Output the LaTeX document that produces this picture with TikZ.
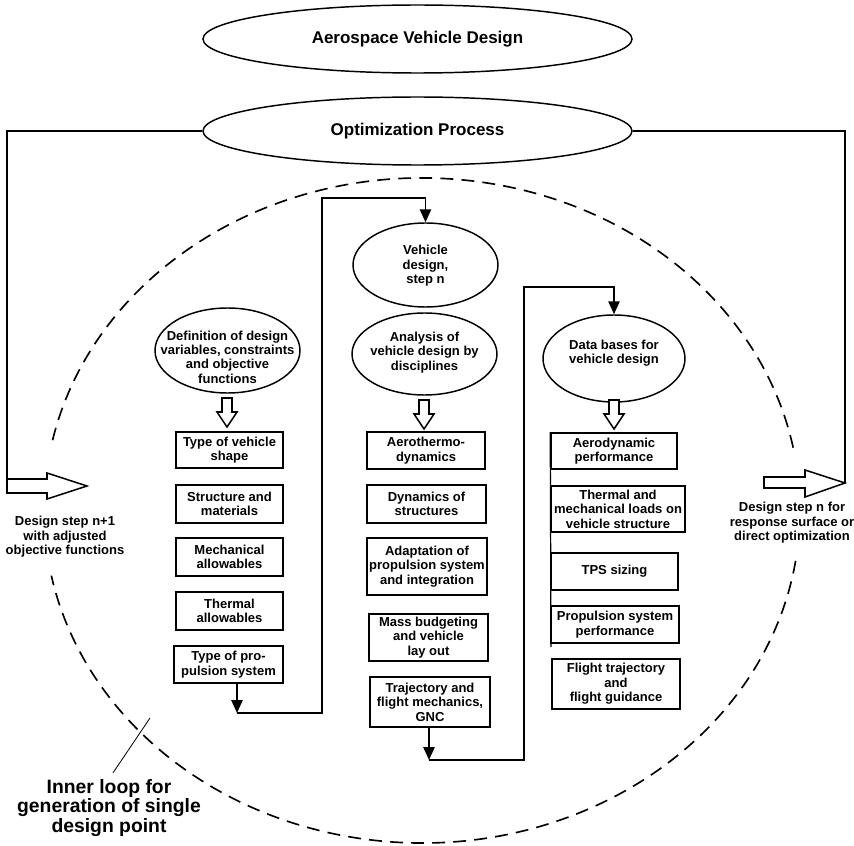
\documentclass[tikz,border=0pt]{standalone}
\usepackage{fontspec}
\setmainfont{Liberation Sans}
\usetikzlibrary{shapes.geometric,arrows.meta}
\newlength\pu
\setlength\pu{0.03cm}
\newcommand\smallbold{\fontsize{11.1}{12.3}\selectfont\bfseries}
\newcommand\bigbold{\fontsize{14.5}{16}\selectfont\bfseries}
\newcommand\loopbold{\fontsize{16.5}{17}\selectfont\bfseries}
\tikzset{
  box/.style={draw, line width=1.3pt, align=center, inner sep=0pt, font=\smallbold},
  oval/.style={draw, ellipse, line width=1.25pt, inner sep=0pt},
  txt/.style={align=center, inner sep=0pt, font=\smallbold},
  link/.style={line width=1.7pt, -{Triangle[length=11pt,width=9.5pt]}},
  loopline/.style={line width=1.6pt},
  loopdash/.style={line width=1.4pt, dash pattern=on 11pt off 7pt},
  hollow/.style={line width=1.3pt, fill=white},
  pics/hollowdown/.style={code={
    \draw[hollow] (-5,0) -- (5,0) -- (5,14) -- (10,14) -- (0,29) -- (-10,14) -- (-5,14) -- cycle;}}
}
\begin{document}
\begin{tikzpicture}[x=\pu, y=-\pu]
\useasboundingbox (0,0) rectangle (854,846);
%\draw[step=50,gray,very thin] (0,0) grid (850,850);

% top ellipses
\node[oval, minimum width=429\pu, minimum height=68\pu, font=\bigbold] (avd) at (417.5,39) {Aerospace Vehicle Design};
\node[oval, minimum width=429\pu, minimum height=68\pu, font=\bigbold] (opt) at (417.5,131) {Optimization Process};

% outer loop with the two big arrows
\coordinate (ltail) at (7,486);
\coordinate (rtip) at (845,483);
\draw[loopline] (opt.west) -| (ltail);
\draw[loopline] (opt.east) -| (rtip);
\draw[hollow] (7,479) -- (47,479) -- (47,473) -- (87,486) -- (47,499) -- (47,493) -- (7,493) -- cycle;
\draw[hollow] (764,477) -- (805,477) -- (805,470) -- (845,483) -- (805,497) -- (805,488) -- (764,488) -- cycle;
\node[txt] (nplus) at (65,537) {Design step n+1\\with adjusted\\objective functions};
\node[txt] (nstep) at (792,523) {Design step n for\\response surface or\\direct optimization};

% inner loop (dashed)
\draw[loopdash] (422,510.5) ++(8.7:378 and 332.5) arc[start angle=8.7, end angle=168.7, x radius=378, y radius=332.5];
\draw[loopdash] (422,510.5) ++(192.2:378 and 332.5) arc[start angle=192.2, end angle=349.9, x radius=378, y radius=332.5];
\node[txt, font=\loopbold] (inner) at (109,808) {Inner loop for\\generation of single\\design point};
\coordinate (slash) at (150,718);
\draw[line width=0.7pt, shorten <=6pt] (inner.north) -- (slash);

%------------------------------------------------
% column 1
\node[oval, minimum width=145\pu, minimum height=85\pu] (def) at (227.5,350.5) {};
\node[txt] (deftxt) at (227.5,357) {Definition of design\\variables, constraints\\and objective\\functions};
\pic at (227,398) {hollowdown};
\node[box, minimum width=107\pu, minimum height=36\pu] (shape) at (229.5,450) {Type of vehicle\\shape};
\node[box, minimum width=107\pu, minimum height=38\pu] (struct) at (229.5,504) {Structure and\\materials};
\node[box, minimum width=107\pu, minimum height=38\pu] (mech) at (229.5,557) {Mechanical\\allowables};
\node[box, minimum width=107\pu, minimum height=38\pu] (therm) at (229.5,611) {Thermal\\allowables};
\node[box, minimum width=109\pu, minimum height=37\pu] (prop) at (228.5,664.5) {Type of pro-\\pulsion system};

%------------------------------------------------
% column 2
\node[oval, minimum width=145\pu, minimum height=84\pu] (vd) at (425.5,265) {};
\node[txt] (vdtxt) at (425.5,266) {Vehicle\\design,\\step n};
\node[oval, minimum width=145\pu, minimum height=82\pu] (ana) at (424.5,354) {};
\node[txt] (anatxt) at (424.5,352.5) {Analysis of\\vehicle design by\\disciplines};
\pic at (424,400) {hollowdown};
\node[box, minimum width=118\pu, minimum height=37\pu] (aeroth) at (426,450.5) {Aerothermo-\\dynamics};
\node[box, minimum width=119\pu, minimum height=38\pu] (dyn) at (426.5,504) {Dynamics of\\structures};
\node[box, minimum width=120\pu, minimum height=57\pu] (adapt) at (427,566.5) {Adaptation of\\propulsion system\\and integration};
\node[box, minimum width=119\pu, minimum height=47\pu] (mass) at (428.5,637.5) {Mass budgeting\\and vehicle\\lay out};
\node[box, minimum width=120\pu, minimum height=50\pu] (traj) at (430,702) {Trajectory and\\flight mechanics,\\GNC};

%------------------------------------------------
% column 3
\node[oval, minimum width=142\pu, minimum height=87\pu] (db) at (614,358.5) {};
\node[txt] (dbtxt) at (614,353) {Data bases for\\vehicle design};
\pic at (614,400) {hollowdown};
\node[box, minimum width=126\pu, minimum height=36\pu] (aerod) at (614,451) {Aerodynamic\\performance};
\node[box, minimum width=134\pu, minimum height=46\pu] (loads) at (618,509) {Thermal and\\mechanical loads on\\vehicle structure};
\node[box, minimum width=127\pu, minimum height=37\pu] (tps) at (614.5,571.5) {TPS sizing};
\node[box, minimum width=128\pu, minimum height=37\pu] (propperf) at (615,624.5) {Propulsion system\\performance};
\node[box, minimum width=128\pu, minimum height=50\pu] (flight) at (616,684) {Flight trajectory\\and\\flight guidance};
\coordinate (c3) at (551,647);
\draw[line width=1.05pt] (aerod.north west) -- (c3);

%------------------------------------------------
% links between the columns
\coordinate (c1) at (237,713);
\coordinate (k1) at (322,198);
\draw[link] (prop.south -| c1) -- (c1);
\draw[link] (c1) -| (k1) -| (vd.north);
\coordinate (c2) at (429,760);
\coordinate (k2) at (524,287);
\draw[link] (traj.south -| c2) -- (c2);
\draw[link] (c2) -| (k2) -| (db.north);
\end{tikzpicture}
\end{document}
